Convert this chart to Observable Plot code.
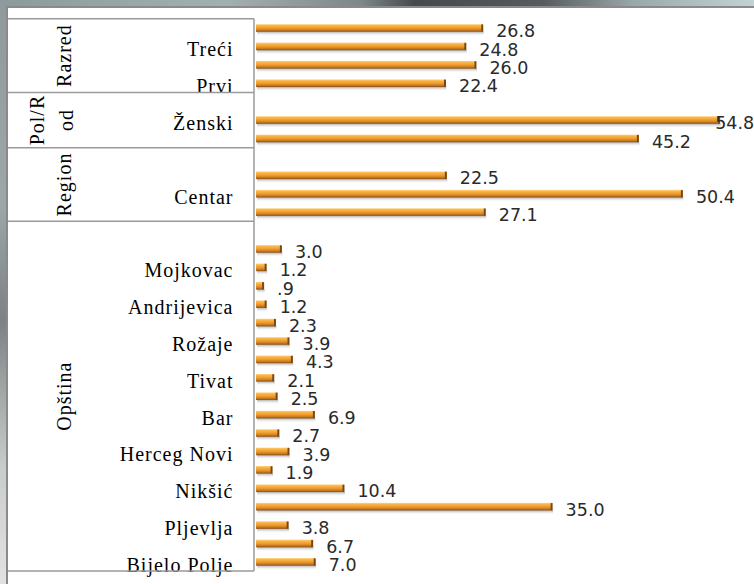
<!DOCTYPE html>
<html>
<head>
<meta charset="utf-8">
<script src="https://cdn.jsdelivr.net/npm/d3@7"></script>
<script src="https://cdn.jsdelivr.net/npm/@observablehq/plot@0.6"></script>
<style>
  html, body { margin: 0; padding: 0; width: 754px; height: 584px; overflow: hidden; background: #fff; }
  #topstrip { position: absolute; left: 0; top: 0; width: 754px; height: 6px;
    background: linear-gradient(to right, #8c9a9c 0%, #a3b0b2 30%, #7d878a 48%, #45494c 55%, #555b5f 72%, #9aa8ab 84%, #c3d2d5 100%); }
  #leftstrip { position: absolute; left: 0; top: 0; width: 6px; height: 584px;
    background: linear-gradient(to bottom, #8f9a9c 0%, #9ea6a8 35%, #7c8284 55%, #c9cccd 80%, #e2e2e2 100%); }
  #frame { position: absolute; left: 6px; top: 6px; width: 748px; height: 578px; box-sizing: border-box;
    border-left: 2px solid #8a8a8a; border-top: 2px solid #8a8a8a; background: #fff; }
  #frame svg { display: block; }
  g[font-family="Liberation Serif"] text { letter-spacing: 1px; }
</style>
</head>
<body>
<div id="topstrip"></div>
<div id="leftstrip"></div>
<div id="frame"></div>
<script>
// ---- data (top to bottom, one entry per category slot) ----
const groupTitles = ["Razred", "Pol/R\nod", "Region", "Opština"];
const groupSizes = [4, 3, 4, 19];
const tickLabels = [
  "", "Treći", "", "Prvi",
  "", "Ženski", "",
  "", "", "Centar", "",
  "", "", "Mojkovac", "", "Andrijevica", "", "Rožaje", "", "Tivat", "", "Bar", "",
  "Herceg Novi", "", "Nikšić", "", "Pljevlja", "", "Bijelo Polje"
];
const values = [
  26.8, 24.8, 26.0, 22.4,
  null, 54.8, 45.2,
  null, 22.5, 50.4, 27.1,
  null, 3.0, 1.2, 0.9, 1.2, 2.3, 3.9, 4.3, 2.1, 2.5, 6.9, 2.7, 3.9, 1.9, 10.4, 35.0, 3.8, 6.7, 7.0
];

const rows = values.map((v, i) => ({key: String(i), value: v, label: tickLabels[i]}));
const bars = rows.filter(d => d.value != null);
const maxV = d3.max(values);
const fmt = v => d3.format(".1f")(v).replace(/^0\./, ".");

// gradients
function defs() {
  const s = d3.create("svg:defs");
  const g = s.append("linearGradient").attr("id", "barGrad").attr("x1", 0).attr("y1", 0).attr("x2", 0).attr("y2", 1);
  [[0, "#ffd27e"], [0.18, "#f9b649"], [0.5, "#ef9c2e"], [0.75, "#cf7f20"], [1, "#87501a"]]
    .forEach(([o, c]) => g.append("stop").attr("offset", o).attr("stop-color", c));
  const sh = s.append("linearGradient").attr("id", "shadowGrad").attr("x1", 0).attr("y1", 0).attr("x2", 0).attr("y2", 1);
  [[0, "#8f8f8f", 0.8], [1, "#ffffff", 0]]
    .forEach(([o, c, op]) => sh.append("stop").attr("offset", o).attr("stop-color", c).attr("stop-opacity", op));
  return s.node();
}

// left category table: separators, border and rotated group titles
function table(index, scales, values, dims) {
  const y = scales.y;
  const step = y("1") - y("0");
  const right = dims.marginLeft - 2;
  const g = d3.create("svg:g");
  let start = 0;
  const ys = [];
  groupSizes.forEach((n, gi) => {
    const top = y(String(start));
    const bottom = y(String(start + n - 1)) + step;
    ys.push(top);
    if (gi === groupSizes.length - 1) ys.push(bottom);
    const lines = groupTitles[gi].split("\n");
    const cx = lines.length > 1 ? 44 : 56;
    const cy = (top + bottom) / 2;
    const t = g.append("text")
      .attr("transform", `translate(${cx},${cy}) rotate(-90)`)
      .attr("text-anchor", "middle")
      .attr("font-family", "Liberation Serif")
      .attr("font-size", 20)
      .attr("letter-spacing", "1px")
      .attr("fill", "#000");
    lines.forEach((ln, i) => {
      t.append("tspan").attr("x", 0).attr("y", (i - (lines.length - 1) / 2) * 28.5 + 6.5).text(ln);
    });
    start += n;
  });
  ys.forEach(yy => g.append("line").attr("x1", 0).attr("x2", right).attr("y1", yy).attr("y2", yy)
    .attr("stroke", "#9a9a9a").attr("stroke-width", 1.5));
  g.append("line").attr("x1", right).attr("x2", right).attr("y1", ys[0]).attr("y2", ys[ys.length - 1])
    .attr("stroke", "#9a9a9a").attr("stroke-width", 1.5);
  return g.node();
}

const chart = Plot.plot({
  width: 746,
  height: 576,
  marginLeft: 248,
  marginRight: 7.3,
  marginTop: 10.8,
  marginBottom: 12.9,
  x: {domain: [0, 58], axis: null},
  y: {domain: rows.map(d => d.key), axis: null, padding: 0, round: false},
  style: {background: "transparent", overflow: "visible"},
  marks: [
    defs,
    Plot.barX(bars, {x: "value", y: "key", fill: "url(#shadowGrad)", insetTop: 12.6, insetBottom: 1.0, dx: 1}),
    Plot.barX(bars, {x: "value", y: "key", fill: "url(#barGrad)", insetTop: 5.4, insetBottom: 5.4}),
    Plot.tickX(bars, {x: "value", y: "key", stroke: "#7a4714", strokeWidth: 2, dx: -1, insetTop: 5.6, insetBottom: 5.6}),
    Plot.text(bars.filter(d => d.value < maxV), {
      x: "value", y: "key", text: d => fmt(d.value), textAnchor: "start", dx: 13, dy: 3,
      fontFamily: "DejaVu Sans", fontSize: 17.5, fill: "#2a2a2a"
    }),
    Plot.text(bars.filter(d => d.value === maxV), {
      y: "key", text: d => fmt(d.value), frameAnchor: "right", textAnchor: "end", dx: 7, dy: 3,
      fontFamily: "DejaVu Sans", fontSize: 17.5, fill: "#2a2a2a"
    }),
    Plot.text(rows.filter(d => d.label), {
      y: "key", text: "label", frameAnchor: "left", textAnchor: "end", dx: -23, dy: 3,
      fontFamily: "Liberation Serif", fontSize: 20, fill: "#000"
    }),
    table
  ]
});
document.getElementById("frame").appendChild(chart);
</script>
</body>
</html>
